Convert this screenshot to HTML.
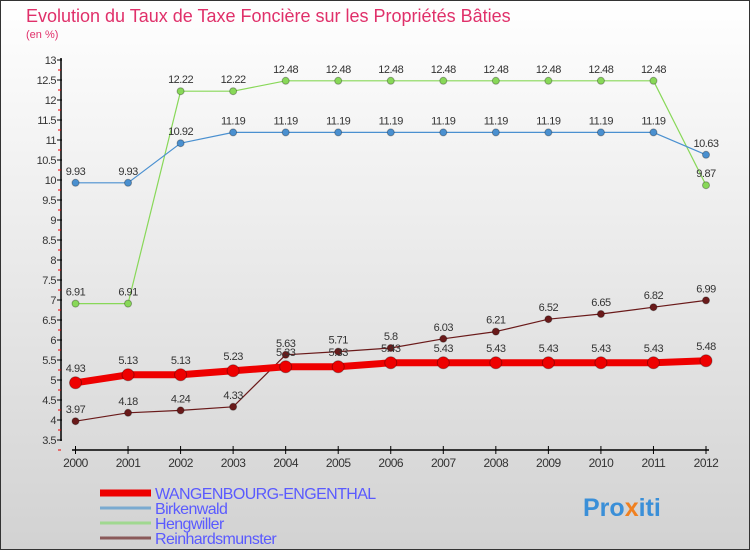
<!DOCTYPE html>
<html><head><meta charset="utf-8"><style>
body{margin:0;}
#c{width:750px;height:550px;position:relative;overflow:hidden;font-family:"Liberation Sans",sans-serif;}
</style></head><body>
<div id="c">
<svg id="s" width="750" height="550" xmlns="http://www.w3.org/2000/svg">
<defs><linearGradient id="bg" x1="0" y1="0" x2="0" y2="1"><stop offset="0" stop-color="#ffffff"/><stop offset="1" stop-color="#d2d2d2"/></linearGradient></defs>
<rect x="0.5" y="0.5" width="749" height="549" fill="url(#bg)" stroke="#333"/>
<text x="26" y="22" font-size="18" fill="#e0306a">Evolution du Taux de Taxe Foncière sur les Propriétés Bâties</text>
<text x="26" y="38" font-size="11" fill="#e0306a">(en %)</text>
<g id="axes"></g><g id="series"></g><g id="legend"></g>
<text x="583" y="516" font-size="25" font-weight="bold" fill="#3a8fd8">Pro<tspan fill="#f08020">x</tspan>iti</text>
</svg></div>
<script>
const years=[2000,2001,2002,2003,2004,2005,2006,2007,2008,2009,2010,2011,2012];
const yTicks=[3.5,4,4.5,5,5.5,6,6.5,7,7.5,8,8.5,9,9.5,10,10.5,11,11.5,12,12.5,13];
const wangen=[4.93,5.13,5.13,5.23,5.33,5.33,5.43,5.43,5.43,5.43,5.43,5.43,5.48];
const birken=[9.93,9.93,10.92,11.19,11.19,11.19,11.19,11.19,11.19,11.19,11.19,11.19,10.63];
const heng=[6.91,6.91,12.22,12.22,12.48,12.48,12.48,12.48,12.48,12.48,12.48,12.48,9.87];
const reinh=[3.97,4.18,4.24,4.33,5.63,5.71,5.8,6.03,6.21,6.52,6.65,6.82,6.99];
const wangenLabels=["4.93","5.13","5.13","5.23","5.33","5.33","5.43","5.43","5.43","5.43","5.43","5.43","5.48"];
const NS="http://www.w3.org/2000/svg";
const xs=i=>75.5+i*(706-75.5)/12;
const ys=v=>440-(v-3.5)*40;
function mk(p,t,a){const e=document.createElementNS(NS,t);for(const k in a)e.setAttribute(k,a[k]);p.appendChild(e);return e;}
const ax=document.getElementById('axes');
let yl=mk(ax,'line',{x1:61,y1:58,x2:61,y2:441,stroke:'#000','stroke-width':1.5});


let xl=mk(ax,'line',{x1:72,y1:450,x2:709,y2:450,stroke:'#000','stroke-width':1.5});


yTicks.forEach(v=>{const y=ys(v);
mk(ax,'line',{x1:57,y1:y,x2:62,y2:y,stroke:'#000'});
mk(ax,'line',{x1:58,y1:y+10,x2:61,y2:y+10,stroke:'#e00'});
const t=mk(ax,'text',{x:56,y:y+4,'font-size':11,'text-anchor':'end',fill:'#333','letter-spacing':'-0.5'});t.textContent=String(v);

});
years.forEach((yr,i)=>{const x=xs(i);mk(ax,'line',{x1:x,y1:446,x2:x,y2:454,stroke:'#000'});
const t=mk(ax,'text',{x:x,y:467,'font-size':12,'text-anchor':'middle',fill:'#333','letter-spacing':'-0.5'});t.textContent=yr;

});
const sg=document.getElementById('series');
function series(name,data,color,w,r,lab,labs,dy){
const g=mk(sg,'g',{});


mk(g,'polyline',{points:data.map((v,i)=>xs(i)+','+ys(v)).join(' '),fill:'none',stroke:color,'stroke-width':w,'stroke-linejoin':'round'});
data.forEach((v,i)=>{const c=mk(g,'circle',{cx:xs(i),cy:ys(v),r:r,fill:color,stroke:'rgba(0,0,0,0.3)'});


const t=mk(g,'text',{x:xs(i),y:ys(v)-dy,'font-size':11,'text-anchor':'middle',fill:'#333','letter-spacing':'-0.5'});t.textContent=labs?labs[i]:String(v);});}
series('series-hengwiller',heng,'#88d858',1.2,3.5,true,null,8);
series('series-birkenwald',birken,'#4a90d0',1.2,3.5,true,null,8);
series('series-reinhardsmunster',reinh,'#6a1a1a',1.2,3.5,true,null,8);
series('series-wangenbourg',wangen,'#ee0000',7,6,true,wangenLabels,11);
const lg=document.getElementById('legend');
const items=[['WANGENBOURG-ENGENTHAL','#ee0000',7,493,499],['Birkenwald','#7aaad0',3,508,514],['Hengwiller','#a0d890',3,523,529],['Reinhardsmunster','#8a5a5a',3,538,544]];
items.forEach(it=>{const g=mk(lg,'g',{});


mk(g,'line',{x1:100,y1:it[3],x2:151,y2:it[3],stroke:it[1],'stroke-width':it[2]});
const t=mk(g,'text',{x:155,y:it[4],'font-size':16,fill:'#5a5aff','letter-spacing':'-0.6'});t.textContent=it[0];});
</script></body></html>
